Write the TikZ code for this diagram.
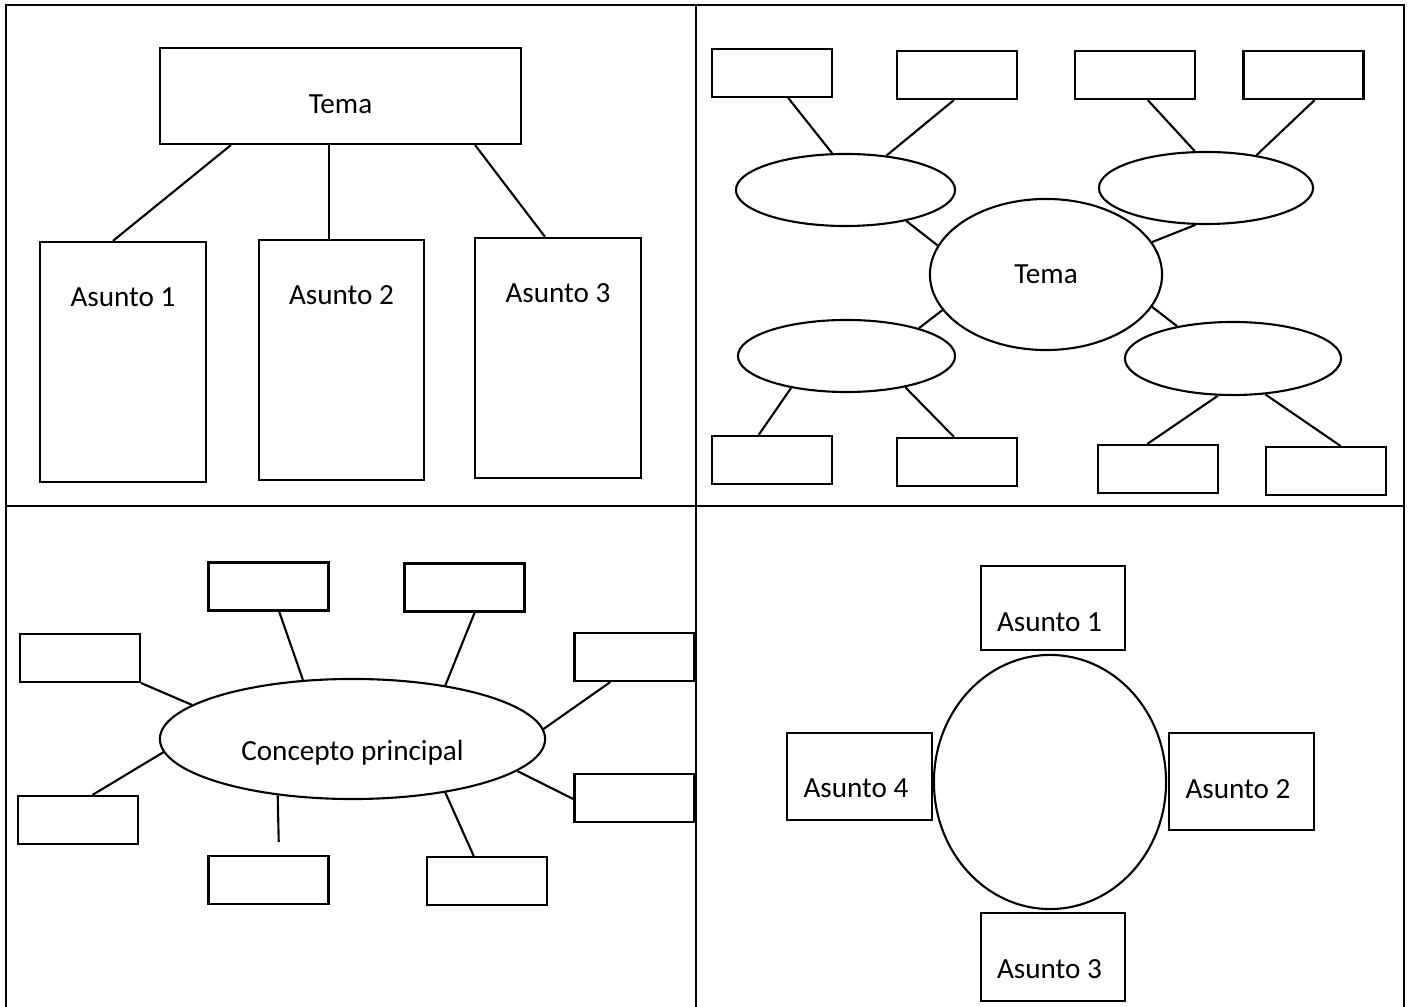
\documentclass[tikz,border=0pt]{standalone}
\usepackage{fontspec}
\setmainfont{Carlito}
\usetikzlibrary{shapes.geometric}

\begin{document}
\begin{tikzpicture}[x=0.01cm, y=-0.01cm, line width=0.6pt,
    font=\fontsize{8.3}{10}\selectfont,
    caja/.style={draw, rectangle, inner sep=0pt, minimum width=1.2cm, minimum height=0.48cm},
    ovalo/.style={draw, ellipse, inner sep=0pt, minimum width=2.17cm, minimum height=0.72cm},
    marco/.style={line width=0.7pt}]
    \useasboundingbox (0,0) rectangle (1411,1007);

    % Marco
    \draw[marco] (6,1007) -- (6,5) -- (1404,5) -- (1404,1007);
    \draw[marco] (696,5) -- (696,1007);
    \draw[marco] (6,506) -- (1404,506);

    % Cuadro 1: tema y asuntos
    \node[caja, minimum width=3.61cm, minimum height=0.96cm] (tema) at (340.5,96) {};
    \node (ttema) at ([yshift=-0.08cm]tema.center) {Tema};
    \node[caja, minimum width=1.66cm, minimum height=2.40cm] (a1) at (123,362) {};
    \node[caja, minimum width=1.65cm, minimum height=2.40cm] (a2) at (341.5,360) {};
    \node[caja, minimum width=1.66cm, minimum height=2.40cm] (a3) at (558,358) {};
    \node (ta1) at ([yshift=-0.56cm]a1.north) {Asunto 1};
    \node (ta2) at ([yshift=-0.56cm]a2.north) {Asunto 2};
    \node (ta3) at ([yshift=-0.56cm]a3.north) {Asunto 3};
    \draw ([xshift=-1.095cm]tema.south) -- ([xshift=-0.1cm]a1.north);
    \draw ([xshift=-0.115cm]tema.south) -- ([xshift=-0.125cm]a2.north);
    \draw ([xshift=1.345cm]tema.south) -- ([xshift=-0.13cm]a3.north);

    % Cuadro 2: tema con ovalos
    \node[ovalo, minimum width=2.32cm, minimum height=1.51cm] (tema2) at (1046,274.5) {Tema};
    \node[ovalo, minimum width=2.19cm] (eul) at (845.5,190) {};
    \node[ovalo, minimum width=2.14cm] (eur) at (1206,188) {};
    \node[ovalo] (ell) at (846.5,356) {};
    \node[ovalo, minimum width=2.16cm, minimum height=0.73cm] (elr) at (1233,358.5) {};
    \node[caja] (tl1) at (772,73) {};
    \node[caja] (tl2) at (957,75) {};
    \node[caja] (tr1) at (1135,75) {};
    \node[caja] (tr2) at (1303.5,75) {};
    \node[caja] (bl1) at (772,460) {};
    \node[caja] (bl2) at (957,462) {};
    \node[caja] (br1) at (1158,469) {};
    \node[caja] (br2) at (1326,471) {};
    \draw (tl1.-57) -- (eul.110);
    \draw (tl2.-97) -- (eul.40);
    \draw (tr1.-63) -- (eur.107);
    \draw (tr2.-66) -- (eur.33);
    \draw (eul.-27) -- (tema2.165);
    \draw (eur.-106) -- (tema2.17);
    \draw (tema2.-161) -- (ell.21);
    \draw (tema2.-17) -- (elr.150);
    \draw (ell.-150) -- (bl1.118);
    \draw (ell.-28) -- (bl2.97);
    \draw (elr.-112) -- (br1.113);
    \draw (elr.-48) -- (br2.60);

    % Cuadro 3: concepto principal
    \node[ovalo, minimum width=3.85cm, minimum height=1.20cm] (cp) at (352.5,739) {};
    \node (tcp) at ([yshift=-0.14cm]cp.center) {Concepto principal};
    \node[caja] (b1) at (268.5,586.5) {};
    \node[caja] (b2) at (464.5,587.5) {};
    \node[caja] (b3) at (80,658) {};
    \node[caja] (b4) at (634.5,657) {};
    \node[caja] (b5) at (78,820) {};
    \node[caja] (b6) at (268.5,880) {};
    \node[caja] (b7) at (487,881) {};
    \node[caja] (b8) at (634.5,798) {};
    \draw (b1.-67) -- (cp.130);
    \draw (b2.-68) -- (cp.30);
    \draw (b3.south east) -- (cp.168);
    \draw (b4.-134) -- (cp.3);
    \draw (b5.60) -- (cp.184);
    \draw[shorten >=0.13cm] (cp.-143) -- ([xshift=0.105cm]b6.north);
    \draw (cp.-30) -- (b7.118);
    \draw (cp.-11) -- (b8.181);

    % Cuadro 4: circulo con cuatro asuntos
    \node[ovalo, minimum width=2.32cm, minimum height=2.54cm] (circ) at (1050,782) {};
    \node[caja, minimum width=1.44cm, minimum height=0.84cm] (s1) at (1053,608) {};
    \node[caja, minimum width=1.45cm, minimum height=0.97cm] (s2) at (1241.5,781.5) {};
    \node[caja, minimum width=1.44cm, minimum height=0.88cm] (s3) at (1053,957) {};
    \node[caja, minimum width=1.45cm, minimum height=0.87cm] (s4) at (859.5,776.5) {};
    \node (ts1) at ([xshift=-0.035cm,yshift=-0.14cm]s1.center) {Asunto 1};
    \node (ts2) at ([xshift=-0.035cm,yshift=-0.08cm]s2.center) {Asunto 2};
    \node (ts3) at ([xshift=-0.035cm,yshift=-0.12cm]s3.center) {Asunto 3};
    \node (ts4) at ([xshift=-0.035cm,yshift=-0.115cm]s4.center) {Asunto 4};
\end{tikzpicture}
\end{document}
